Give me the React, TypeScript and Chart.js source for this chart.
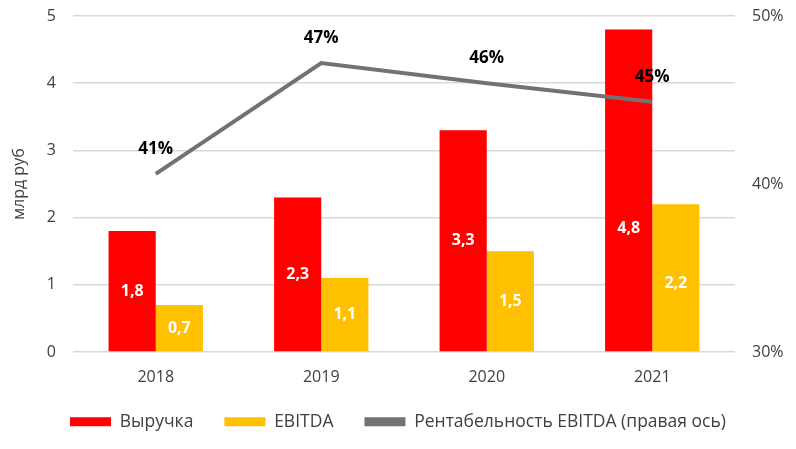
import React, { useEffect, useRef } from "react";
import { Chart, registerables } from "chart.js";

Chart.register(...registerables);

const years = ["2018", "2019", "2020", "2021"];
const revenue = [1.8, 2.3, 3.3, 4.8];
const ebitda = [0.7, 1.1, 1.5, 2.2];
const margin = [40.6, 47.2, 46.0, 44.9];
const marginLabels = ["41%", "47%", "46%", "45%"];

const FONT = "'Open Sans', 'Noto Sans', sans-serif";

const labelPlugin = {
  id: "valueLabels",
  afterDatasetsDraw(chart: any) {
    const ctx = chart.ctx;
    ctx.save();
    ctx.textAlign = "center";
    ctx.textBaseline = "middle";
    // label nudges (Excel-moved labels)
    const nudge: Record<string, number> = { "0-3": 38, "1-3": 6 };
    chart.data.datasets.forEach((ds: any, di: number) => {
      const meta = chart.getDatasetMeta(di);
      meta.data.forEach((el: any, i: number) => {
        if (ds.type === "line") {
          ctx.fillStyle = "#000000";
          ctx.font = `bold 17px ${FONT}`;
          ctx.fillText(marginLabels[i], el.x, el.y - 25);
        } else {
          ctx.fillStyle = "#ffffff";
          ctx.font = `bold 16px ${FONT}`;
          const v = ds.data[i];
          const y = (el.y + el.base) / 2 + (nudge[`${di}-${i}`] || 0);
          ctx.fillText(String(v).replace(".", ","), el.x, y);
        }
      });
    });
    ctx.restore();
  },
};

const legendFit = {
  id: "legendFit",
  beforeInit(chart: any) {
    const lg = chart.legend;
    if (!lg) return;
    const orig = lg.fit;
    lg.fit = function () {
      orig.call(this);
      this.height = 61;
    };
  },
  afterLayout(chart: any) {
    const lg = chart.legend;
    if (!lg) return;
    lg.top -= 6;
    lg.bottom -= 6;
  },
};

export default function App() {
  const ref = useRef<HTMLCanvasElement>(null);
  useEffect(() => {
    if (!ref.current) return;
    const chart = new Chart(ref.current, {
      type: "bar",
      data: {
        labels: years,
        datasets: [
          {
            type: "bar",
            label: "Выручка",
            data: revenue,
            backgroundColor: "#FF0000",
            borderWidth: 0,
            yAxisID: "y",
            order: 2,
          },
          {
            type: "bar",
            label: "EBITDA",
            data: ebitda,
            backgroundColor: "#FFC000",
            borderWidth: 0,
            yAxisID: "y",
            order: 2,
          },
          {
            type: "line",
            label: "Рентабельность EBITDA (правая ось)",
            data: margin,
            borderColor: "#767171",
            backgroundColor: "#767171",
            borderWidth: 4,
            pointRadius: 0,
            yAxisID: "y1",
            order: 1,
          } as any,
        ],
      },
      options: {
        animation: false,
        responsive: true,
        maintainAspectRatio: false,
        datasets: {
          bar: { barPercentage: 1, categoryPercentage: 0.57 },
        } as any,
        layout: { padding: { top: 16, bottom: 0, left: 0, right: 0 } },
        plugins: {
          legend: {
            position: "bottom",
            labels: {
              boxWidth: 41,
              boxHeight: 9,
              padding: 31,
              color: "#404040",
              font: { family: FONT, size: 17.5 },
              sort: (a: any, b: any) => a.datasetIndex - b.datasetIndex,
              generateLabels: (chart: any) => {
                const items = Chart.defaults.plugins.legend.labels.generateLabels(chart);
                items.forEach((it: any) => {
                  it.lineWidth = 0;
                });
                return items;
              },
            },
          },
          tooltip: { enabled: false },
        },
        scales: {
          x: {
            grid: { display: false, drawTicks: false },
            border: { display: false },
            ticks: { color: "#404040", padding: 16, font: { family: FONT, size: 16 } },
            afterFit(scale: any) {
              scale.height = 36;
            },
          },
          y: {
            position: "left",
            min: 0,
            max: 5,
            ticks: { stepSize: 1, color: "#404040", padding: 17, font: { family: FONT, size: 16 } },
            grid: { color: "#d9d9d9", lineWidth: 1.5, drawTicks: false },
            border: { display: false },
            title: {
              display: true,
              text: "млрд руб",
              color: "#404040",
              font: { family: FONT, size: 16 },
              padding: { top: 10, bottom: 0 },
            },
            afterFit(scale: any) {
              scale.width = 73;
              scale.paddingTop = 0;
              scale.paddingBottom = 0;
            },
          },
          y1: {
            position: "right",
            min: 30,
            max: 50,
            ticks: {
              stepSize: 10,
              color: "#404040",
              padding: 17,
              font: { family: FONT, size: 16 },
              callback: (v: any) => v + "%",
            },
            grid: { display: false, drawTicks: false },
            border: { display: false },
            afterFit(scale: any) {
              scale.width = 61;
              scale.paddingTop = 0;
              scale.paddingBottom = 0;
            },
          },
        },
      },
      plugins: [labelPlugin, legendFit],
    });
    return () => chart.destroy();
  }, []);
  return (
    <div style={{ position: "fixed", left: 0, top: 0, width: 796, height: 449, background: "#fff" }}>
      <canvas ref={ref} />
    </div>
  );
}
